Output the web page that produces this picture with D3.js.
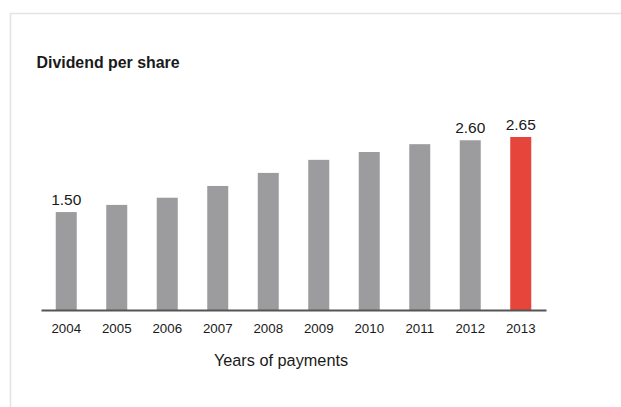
<!DOCTYPE html>
<html>
<head>
<meta charset="utf-8">
<script src="https://cdn.jsdelivr.net/npm/d3@7"></script>
<style>
  html, body { margin: 0; padding: 0; background: #fff; }
  svg { display: block; font-family: "Liberation Sans", Arial, Helvetica, sans-serif; }
</style>
</head>
<body>
<svg id="chart" width="621" height="407"></svg>
<script>
// Dividend per share by year of payment
const years = ["2004", "2005", "2006", "2007", "2008", "2009", "2010", "2011", "2012", "2013"];
const dividends = [1.50, 1.61, 1.72, 1.90, 2.10, 2.30, 2.42, 2.54, 2.60, 2.65];
const labelledYears = ["2004", "2012", "2013"];
const highlightYear = "2013";

const svg = d3.select("#chart");

// panel frame: top and left rules
svg.append("line").attr("x1", 10).attr("x2", 621).attr("y1", 13.5).attr("y2", 13.5)
  .attr("stroke", "#e3e3e3").attr("stroke-width", 1.6);
svg.append("line").attr("x1", 10.5).attr("x2", 10.5).attr("y1", 13).attr("y2", 407)
  .attr("stroke", "#e3e3e3").attr("stroke-width", 1.6);

svg.append("text")
  .attr("x", 36.5).attr("y", 67.5)
  .attr("font-size", 15.9).attr("font-weight", "bold").attr("fill", "#1a1a1a")
  .text("Dividend per share");

const baseY = 310;
const x = d3.scaleBand().domain(years).range([41, 546]).paddingInner(0.584).paddingOuter(0.292);
const y = d3.scaleLinear().domain([0, 2.65]).range([baseY, 137]);

const data = years.map((yr, i) => ({ year: yr, value: dividends[i] }));

svg.append("g").selectAll("rect").data(data).join("rect")
  .attr("x", d => x(d.year))
  .attr("y", d => y(d.value))
  .attr("width", x.bandwidth())
  .attr("height", d => baseY - y(d.value))
  .attr("fill", d => d.year === highlightYear ? "#e5453a" : "#9c9c9e");

svg.append("g").selectAll("text").data(data.filter(d => labelledYears.includes(d.year))).join("text")
  .attr("x", d => x(d.year) + x.bandwidth() / 2)
  .attr("y", d => y(d.value) - 7.5)
  .attr("text-anchor", "middle")
  .attr("font-size", 15.5).attr("fill", "#1a1a1a")
  .text(d => d3.format(".2f")(d.value));

// category axis
const axis = svg.append("g").attr("transform", `translate(0,${baseY})`)
  .call(d3.axisBottom(x).tickSize(0).tickPadding(13.5));
axis.select(".domain").attr("stroke", "#555").attr("stroke-width", 2);
axis.selectAll(".tick text")
  .attr("font-size", 13.3).attr("fill", "#1a1a1a")
  .attr("font-family", "\"Liberation Sans\", Arial, sans-serif");

svg.append("text")
  .attr("x", 281).attr("y", 366)
  .attr("text-anchor", "middle")
  .attr("font-size", 16.3).attr("fill", "#1a1a1a")
  .text("Years of payments");
</script>
</body>
</html>
